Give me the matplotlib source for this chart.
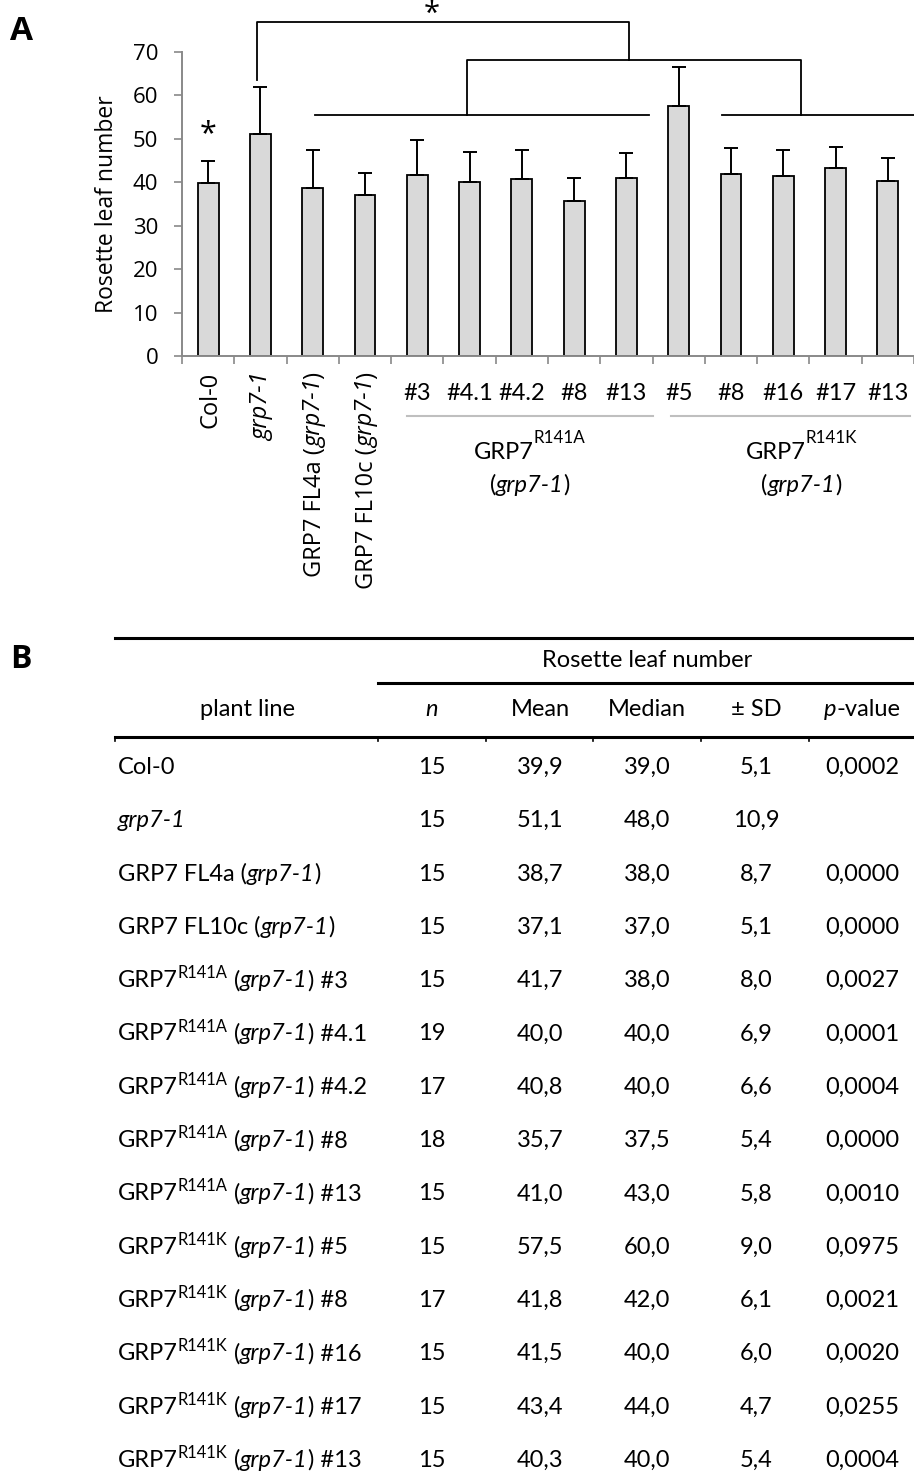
import re
import matplotlib
matplotlib.use("Agg")
import matplotlib.pyplot as plt
import numpy as np
from matplotlib.lines import Line2D

# flowering time data: rosette leaf number per plant line
lines = ["Col-0", "grp7-1", "GRP7 FL4a (grp7-1)", "GRP7 FL10c (grp7-1)",
         "GRP7^R141A (grp7-1) #3", "GRP7^R141A (grp7-1) #4.1",
         "GRP7^R141A (grp7-1) #4.2", "GRP7^R141A (grp7-1) #8",
         "GRP7^R141A (grp7-1) #13", "GRP7^R141K (grp7-1) #5",
         "GRP7^R141K (grp7-1) #8", "GRP7^R141K (grp7-1) #16",
         "GRP7^R141K (grp7-1) #17", "GRP7^R141K (grp7-1) #13"]
n_plants = [15, 15, 15, 15, 15, 19, 17, 18, 15, 15, 17, 15, 15, 15]
mean = [39.9, 51.1, 38.7, 37.1, 41.7, 40.0, 40.8, 35.7, 41.0, 57.5, 41.8, 41.5, 43.4, 40.3]
median = [39.0, 48.0, 38.0, 37.0, 38.0, 40.0, 40.0, 37.5, 43.0, 60.0, 42.0, 40.0, 44.0, 40.0]
sd = [5.1, 10.9, 8.7, 5.1, 8.0, 6.9, 6.6, 5.4, 5.8, 9.0, 6.1, 6.0, 4.7, 5.4]
pvalue = ["0,0002", "", "0,0000", "0,0000", "0,0027", "0,0001", "0,0004",
          "0,0000", "0,0010", "0,0975", "0,0021", "0,0020", "0,0255", "0,0004"]

# axis labels: first four rotated, the rest short line numbers under group headers
rotated_labels = lines[:4]
short_labels = [s.split(" ")[-1] for s in lines[4:]]
# (title, underline start, underline end, title centre) in category units
groups = [("GRP7^R141A", 3.8, 8.5, 6.15), ("GRP7^R141K", 8.85, 13.42, 11.35)]

W, H = 914, 1477
fig = plt.figure(figsize=(W / 100, H / 100), dpi=100)
renderer = fig.canvas.get_renderer()

AX_FONT = "Open Sans"
TXT_FONT = "Lato"


def advance(s, **kw):
    t1 = fig.text(0, 0, s + "|", **kw)
    t2 = fig.text(0, 0, "|", **kw)
    w = t1.get_window_extent(renderer).width - t2.get_window_extent(renderer).width
    t1.remove()
    t2.remove()
    return w


def rich(px, py, text, size, family=TXT_FONT, ha="left", rot=False,
         sup_scale=0.7, sup_rise=8):
    """Draw text with italic 'grp7-1' and ^superscripts, at pixel coords from top-left."""
    parts = []
    for seg in re.split(r"(grp7-1|\^R141[AK])", text):
        if not seg:
            continue
        if seg == "grp7-1":
            parts.append((seg, "italic", size, 0))
        elif seg.startswith("^"):
            parts.append((seg[1:], "normal", size * sup_scale, sup_rise))
        else:
            parts.append((seg, "normal", size, 0))
    adv = [advance(s, fontsize=sz, style=st, family=family) for s, st, sz, _ in parts]
    total = sum(adv)
    pos = {"left": 0, "center": -total / 2, "right": -total}[ha]
    for (s, st, sz, rise), a in zip(parts, adv):
        if rot:
            x, y = px - rise, py - pos
        else:
            x, y = px + pos, py - rise
        fig.text(x / W, 1 - y / H, s, fontsize=sz, style=st, family=family,
                 ha="left", va="baseline", rotation=90 if rot else 0,
                 rotation_mode="anchor")
        pos += a


# ---------------- panel A: bar chart ----------------
ax = fig.add_axes([182 / W, 1 - 356 / H, 732 / W, 304 / H])
x = np.arange(len(lines))
ax.bar(x, mean, width=0.4, color="#D9D9D9", edgecolor="black", linewidth=1.3, zorder=2)
ax.errorbar(x, mean, yerr=[np.zeros(len(sd)), sd], fmt="none", ecolor="black",
            elinewidth=1.4, capsize=4.7, capthick=1.4, zorder=3)

ax.set_xlim(-0.5, len(lines) - 0.5)
ax.set_ylim(0, 70)
ax.set_yticks(range(0, 71, 10))
ax.set_xticks(np.arange(-0.5, len(lines), 1.0))
ax.set_xticklabels([])
for side in ("top", "right"):
    ax.spines[side].set_visible(False)
for side in ("left", "bottom"):
    ax.spines[side].set_color("#898989")
    ax.spines[side].set_linewidth(1.4)
ax.tick_params(axis="both", direction="out", length=6, width=1.2, color="#898989")
ax.tick_params(axis="y", pad=11, labelsize=16)
for lab in ax.get_yticklabels():
    lab.set_family(AX_FONT)
ax.set_ylabel("Rosette leaf number", fontsize=16.5, family=AX_FONT, va="center")
ax.yaxis.set_label_coords(-0.1025, 0.5)

# significance brackets
br = dict(color="black", lw=1.3, clip_on=False, zorder=4)
ax.plot([2.04, 8.43], [55.5, 55.5], **br)
ax.plot([9.82, 13.5], [55.5, 55.5], **br)
ax.plot([4.95, 4.95, 11.33, 11.33], [55.5, 68.2, 68.2, 55.5], **br)
ax.plot([0.94, 0.94, 8.05, 8.05], [63.5, 76.9, 76.9, 68.2], **br)
star_x = ax.transData.transform((4.28, 0))[0]
fig.text(star_x / W, 1.0, "*", ha="center", va="top", fontsize=21, family=AX_FONT)
ax.text(0, 51.0, "*", ha="center", va="center", fontsize=22, family=AX_FONT)

# category labels
cat_px = [ax.transData.transform((i, 0))[0] for i in x]
for i, name in enumerate(rotated_labels):
    rich(cat_px[i] + 8, 372, name, 17, family=AX_FONT, ha="right", rot=True)
for i, name in enumerate(short_labels):
    fig.text(cat_px[i + 4] / W, 1 - 400 / H, name, fontsize=17, family=TXT_FONT,
             ha="center", va="baseline")

for title, x0, x1, xc in groups:
    ax.plot([x0, x1], [-0.197, -0.197], transform=ax.get_xaxis_transform(),
            color="#BFBFBF", lw=1.5, clip_on=False)
    cx = ax.transData.transform((xc, 0))[0]
    rich(cx, 459, title, 17, ha="center", sup_scale=0.72, sup_rise=16)
    rich(cx, 492, "(grp7-1)", 17, ha="center")

fig.text(10 / W, 1 - 40 / H, "A", fontsize=24, weight="bold", family=AX_FONT)

# ---------------- panel B: table ----------------
fig.text(10 / W, 1 - 668 / H, "B", fontsize=23, weight="bold", family=AX_FONT)


def hline(py, x0, x1, lw=2.2):
    fig.add_artist(Line2D([x0 / W, x1 / W], [1 - py / H, 1 - py / H],
                          transform=fig.transFigure, color="black", lw=lw))


hline(638, 115, 914)
hline(683, 378, 914)
hline(737, 115, 914)
col_edges = [115, 378, 486, 593, 701, 809]
for cx in col_edges:
    fig.add_artist(Line2D([cx / W, cx / W], [1 - 737 / H, 1 - 741 / H],
                          transform=fig.transFigure, color="black", lw=1.2))

col_cx = [432, 540, 647, 756, 862]
TS = 17
fig.text(647 / W, 1 - 667 / H, "Rosette leaf number", fontsize=TS, family=TXT_FONT,
         ha="center", va="baseline")
fig.text(247 / W, 1 - 716 / H, "plant line", fontsize=TS, family=TXT_FONT,
         ha="center", va="baseline")
fig.text(col_cx[0] / W, 1 - 716 / H, "n", fontsize=TS, family=TXT_FONT, style="italic",
         ha="center", va="baseline")
for cx, head in zip(col_cx[1:4], ["Mean", "Median", "± SD"]):
    fig.text(cx / W, 1 - 716 / H, head, fontsize=TS, family=TXT_FONT,
             ha="center", va="baseline")
pw = advance("p", fontsize=TS, family=TXT_FONT, style="italic")
vw = advance("-value", fontsize=TS, family=TXT_FONT)
px0 = col_cx[4] - (pw + vw) / 2
fig.text(px0 / W, 1 - 716 / H, "p", fontsize=TS, family=TXT_FONT, style="italic",
         va="baseline")
fig.text((px0 + pw) / W, 1 - 716 / H, "-value", fontsize=TS, family=TXT_FONT,
         va="baseline")

fmt = lambda v: f"{v:.1f}".replace(".", ",")
for r, name in enumerate(lines):
    py = 774 + 53.3 * r
    rich(118, py, name, TS, sup_scale=0.7, sup_rise=9)
    row = [str(n_plants[r]), fmt(mean[r]), fmt(median[r]), fmt(sd[r]), pvalue[r]]
    for cx, val in zip(col_cx, row):
        fig.text(cx / W, 1 - py / H, val, fontsize=TS, family=TXT_FONT,
                 ha="center", va="baseline")

fig.savefig("out.png", dpi=100)
